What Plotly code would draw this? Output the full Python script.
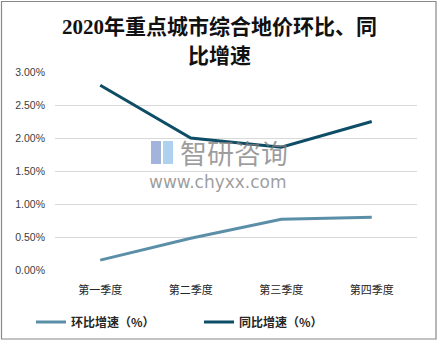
import plotly.graph_objects as go

categories = ["第一季度", "第二季度", "第三季度", "第四季度"]
huanbi = [0.15, 0.48, 0.77, 0.80]
tongbi = [2.80, 2.00, 1.86, 2.25]
yticks = [0, 0.5, 1.0, 1.5, 2.0, 2.5, 3.0]
yticklabels = ["0.00%", "0.50%", "1.00%", "1.50%", "2.00%", "2.50%", "3.00%"]

W, H = 438, 341
ml, mr, mt, mb = 55, 21, 72, 71
pw, ph = W - ml - mr, H - mt - mb


def px_x(x):
    return (x - ml) / pw


def px_y(y):
    return 1 - (y - mt) / ph


fig = go.Figure()
fig.add_trace(go.Scatter(x=categories, y=huanbi, mode="lines", name="<b>环比增速（%）</b>",
                         line=dict(color="#5b8fa8", width=3), legend="legend"))
fig.add_trace(go.Scatter(x=categories, y=tongbi, mode="lines", name="<b>同比增速（%）</b>",
                         line=dict(color="#0d4d66", width=3), legend="legend2"))

font_cjk = "Noto Sans CJK SC"
leg_common = dict(orientation="h", xanchor="left", yanchor="middle", y=px_y(322),
                  font=dict(family=font_cjk, size=12, color="#262626"),
                  bgcolor="rgba(0,0,0,0)")
fig.update_layout(
    width=W, height=H,
    margin=dict(l=ml, r=mr, t=mt, b=mb, autoexpand=False),
    paper_bgcolor="white", plot_bgcolor="white",
    xaxis=dict(showgrid=False, showline=False, zeroline=False, ticks="",
               tickfont=dict(family=font_cjk, size=11, color="#262626"),
               ticklabelstandoff=12,
               range=[-0.5, 3.5]),
    yaxis=dict(range=[0, 3.0], tickvals=yticks, ticktext=yticklabels,
               showgrid=True, gridcolor="#d9d9d9", gridwidth=1, zeroline=False,
               showline=False, ticks="", ticklabelstandoff=9,
               tickfont=dict(family="Liberation Sans, Arial", size=10.5, color="#404040")),
    legend=dict(x=px_x(31), **leg_common),
    legend2=dict(x=px_x(199), **leg_common),
    showlegend=True,
)

title_font = dict(family="Liberation Serif, " + font_cjk, size=21, color="#111111")
fig.add_annotation(text="<b>2020年重点城市综合地价环比、同</b>", xref="paper", yref="paper",
                   x=px_x(219), y=px_y(27), showarrow=False, font=title_font,
                   xanchor="center", yanchor="middle")
fig.add_annotation(text="<b>比增速</b>", xref="paper", yref="paper",
                   x=px_x(219), y=px_y(56), showarrow=False, font=title_font,
                   xanchor="center", yanchor="middle")

# watermark
fig.add_annotation(text="智研咨询", xref="paper", yref="paper",
                   x=px_x(178), y=px_y(152), showarrow=False, xanchor="left",
                   font=dict(family=font_cjk, size=27, color="rgba(125,125,125,0.75)"))
fig.add_annotation(text="www.chyxx.com", xref="paper", yref="paper",
                   x=px_x(218), y=px_y(182), showarrow=False,
                   font=dict(family="DejaVu Sans", size=17, color="rgba(125,125,125,0.75)"))
fig.add_shape(type="rect", xref="paper", yref="paper",
              x0=px_x(151), x1=px_x(161), y0=px_y(164), y1=px_y(141),
              fillcolor="rgba(100,130,195,0.6)", line=dict(width=0))
fig.add_shape(type="rect", xref="paper", yref="paper",
              x0=px_x(163), x1=px_x(173), y0=px_y(164), y1=px_y(141),
              fillcolor="rgba(120,180,225,0.6)", line=dict(width=0))

# outer border
fig.add_shape(type="rect", xref="paper", yref="paper",
              x0=px_x(1.5), x1=px_x(W - 2), y0=px_y(H - 2), y1=px_y(1.5),
              line=dict(color="#888888", width=1.2), fillcolor="rgba(0,0,0,0)")

fig.write_html("out.html")
